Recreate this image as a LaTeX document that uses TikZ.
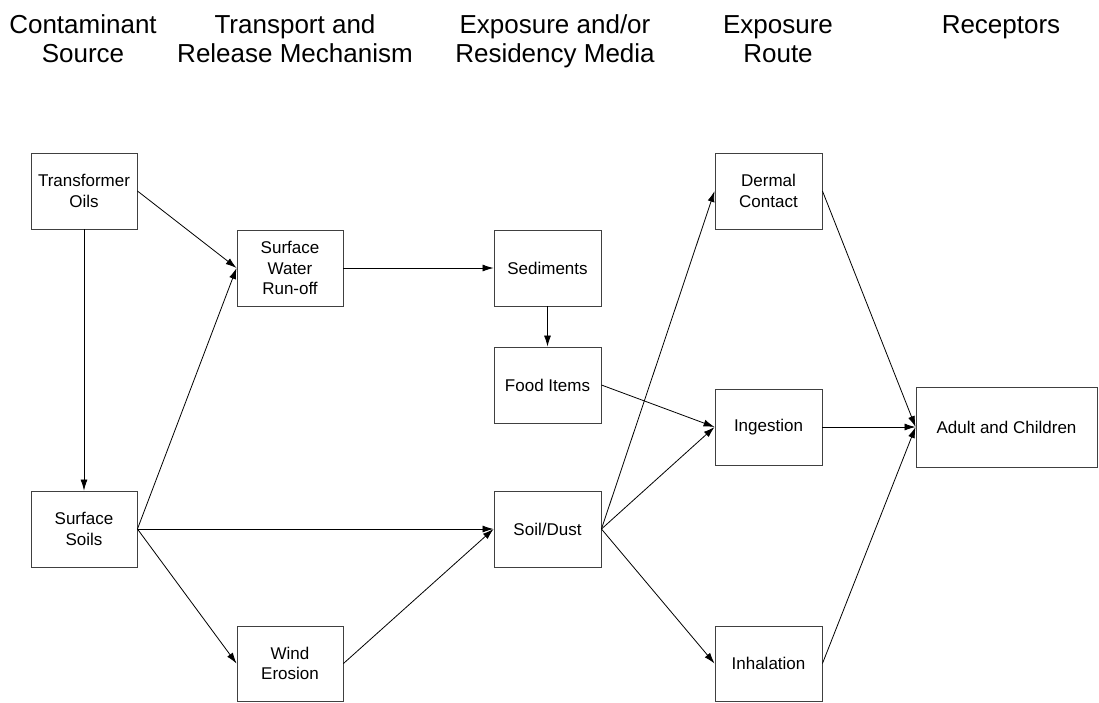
\documentclass[tikz,border=0pt]{standalone}
\usepackage{fontspec}
\setmainfont{Liberation Sans}
\usetikzlibrary{arrows.meta}
\newcommand{\boxfont}{\fontsize{17pt}{20.5pt}\selectfont}
\newcommand{\hdrfont}{\fontsize{26pt}{29pt}\selectfont}
\tikzset{
  box/.style={draw=black!75, line width=0.9pt, inner sep=0pt, align=center, font=\boxfont, anchor=center},
  hdr/.style={align=center, font=\hdrfont, inner sep=0pt, anchor=base},
  arr/.style={-{Latex[length=11pt,width=7pt]}, line width=0.8pt, draw=black}
}
\begin{document}
\begin{tikzpicture}[x=1pt,y=-1pt]
\useasboundingbox (0,0) rectangle (1099,702);
% headers (base anchor = last line's baseline)
\node[hdr] (h1) at (83,62) {Contaminant\\Source};
\node[hdr] (h2) at (295,62) {Transport and\\Release Mechanism};
\node[hdr] (h3) at (555,62) {Exposure and/or\\Residency Media};
\node[hdr] (h4) at (778,62) {Exposure\\Route};
\node[hdr] (h5) at (1001,33) {Receptors};
% boxes
\node[box, minimum width=106pt, minimum height=76pt] (to) at (84,191) {Transformer\\Oils};
\node[box, minimum width=106pt, minimum height=76pt] (ss) at (84,529) {Surface\\Soils};
\node[box, minimum width=106pt, minimum height=76pt] (sw) at (290,268) {Surface\\Water\\Run-off};
\node[box, minimum width=106pt, minimum height=75pt] (we) at (290,663.5) {Wind\\Erosion};
\node[box, minimum width=107pt, minimum height=76pt] (se) at (547.5,268) {Sediments};
\node[box, minimum width=107pt, minimum height=76pt] (fi) at (547.5,385) {Food Items};
\node[box, minimum width=107pt, minimum height=76pt] (sd) at (547.5,529) {Soil/Dust};
\node[box, minimum width=107pt, minimum height=76pt] (dc) at (768.5,191) {Dermal\\Contact};
\node[box, minimum width=107pt, minimum height=76pt] (ig) at (768.5,427) {Ingestion};
\node[box, minimum width=107pt, minimum height=75pt] (ih) at (768.5,663.5) {Inhalation};
\node[box, minimum width=181pt, minimum height=80pt] (ac) at (1006.5,427) {Adult and Children};
% connectors
\draw[arr] (to.east) -- (sw.west);
\draw[arr] (to.south) -- (ss.north);
\draw[arr] (ss.east) -- (sw.west);
\draw[arr] (ss.east) -- (sd.west);
\draw[arr] (ss.east) -- (we.west);
\draw[arr] (we.east) -- (sd.west);
\draw[arr] (sw.east) -- (se.west);
\draw[arr] (se.south) -- (fi.north);
\draw[arr] (fi.east) -- (ig.west);
\draw[arr] (sd.east) -- (dc.west);
\draw[arr] (sd.east) -- (ig.west);
\draw[arr] (sd.east) -- (ih.west);
\draw[arr] (dc.east) -- (ac.west);
\draw[arr] (ig.east) -- (ac.west);
\draw[arr] (ih.east) -- (ac.west);
\end{tikzpicture}
\end{document}
